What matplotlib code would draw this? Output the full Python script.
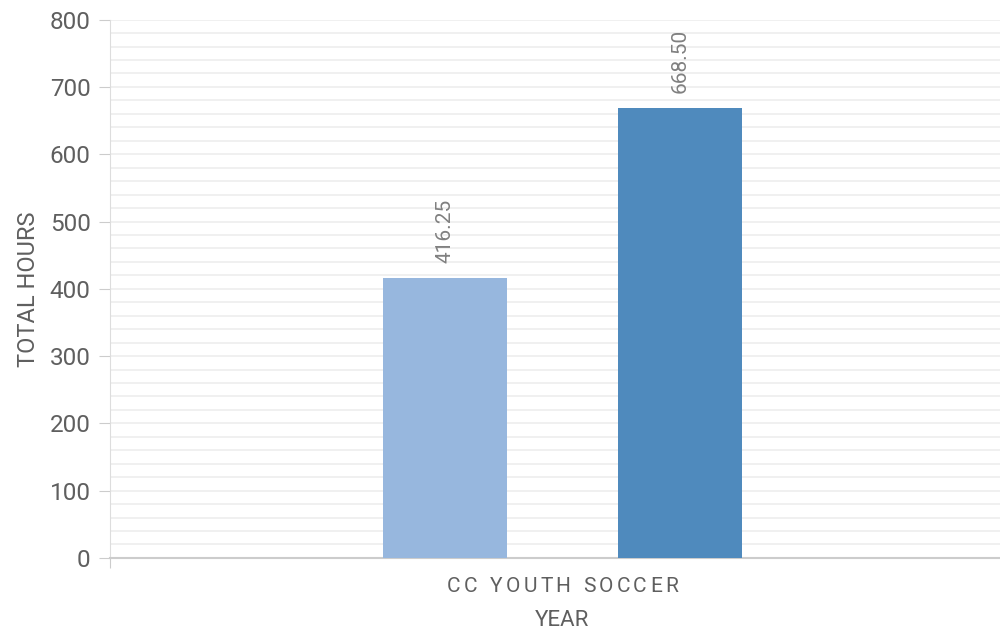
import matplotlib.pyplot as plt
from matplotlib.font_manager import FontProperties
from matplotlib.transforms import offset_copy
import numpy as np

plt.rcParams['font.family'] = ['Roboto', 'DejaVu Sans']

category = 'CC YOUTH SOCCER'
series_names = ['Year 1', 'Year 2']
hours = [416.25, 668.50]
colors = ['#97b7de', '#4f8abd']

fig = plt.figure(figsize=(10, 6.34), dpi=100)
ax = fig.add_axes([0.11, 0.12, 0.905, 0.849])

offsets = [-0.13, 0.13]
width = 0.137
for off, h, c, name in zip(offsets, hours, colors, series_names):
    ax.bar(off, h, width=width, color=c, label=name, zorder=3)
    ax.annotate(f'{h:.2f}', (off, h), xytext=(0, 11), textcoords='offset points',
                rotation=90, ha='center', va='bottom', fontsize=15, color='#808080')

ax.set_xlim(-0.5, 0.5)
ax.set_ylim(0, 800)
ax.set_yticks(np.arange(0, 801, 100))
ax.set_yticks(np.arange(0, 801, 20), minor=True)
ax.grid(axis='y', which='both', color='#eeeeee', linewidth=1.2, zorder=0)
ax.tick_params(axis='y', which='major', length=8, color='#cccccc', labelsize=17.5,
               labelcolor='#5f5f5f', pad=6)
ax.tick_params(axis='y', which='minor', length=0)

ax.set_xticks([-0.5])
ax.set_xticklabels([''])
ax.tick_params(axis='x', length=7, color='#cccccc')

# category label with letter spacing, one glyph at a time
fp = FontProperties(family=['Roboto', 'DejaVu Sans'], size=15)
renderer = fig.canvas.get_renderer()
spacing = 3.2
widths = []
for ch in category:
    w, _, _ = renderer.get_text_width_height_descent(ch if ch != ' ' else 'n', fp, ismath=False)
    widths.append(w * 0.55 if ch == ' ' else w)
total = sum(widths) + spacing * (len(category) - 1)
x = -total / 2
for ch, w in zip(category, widths):
    tr = offset_copy(ax.get_xaxis_transform(), fig=fig, x=x * 72 / fig.dpi, y=0, units='points')
    ax.text(0.0, -0.035, ch, transform=tr, ha='left', va='top', fontproperties=fp,
            color='#5f5f5f')
    x += w + spacing

ax.set_xlabel('YEAR', fontsize=16, color='#5f5f5f', labelpad=27)
ax.set_ylabel('TOTAL HOURS', fontsize=17, color='#5f5f5f', labelpad=7)

for s in ['top', 'right']:
    ax.spines[s].set_visible(False)
ax.spines['left'].set_color('#dddddd')
ax.spines['bottom'].set_color('#cccccc')
ax.spines['bottom'].set_linewidth(1.5)

plt.savefig('out.png')
